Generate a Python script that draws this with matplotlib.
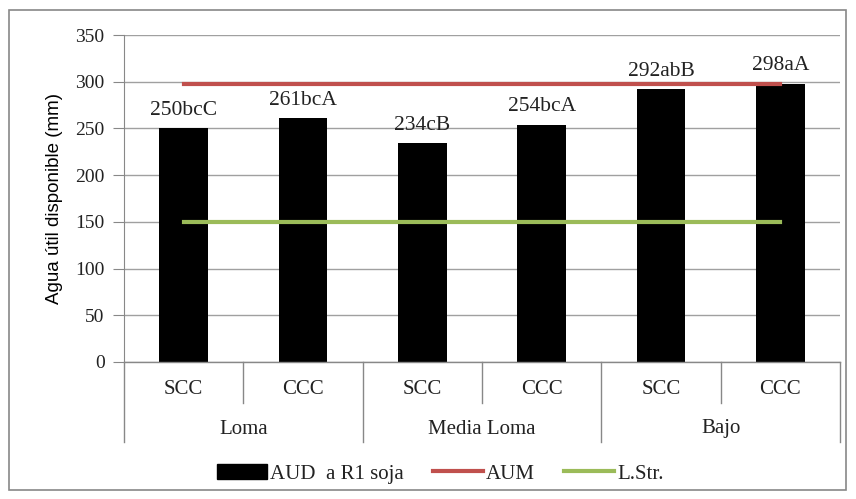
import matplotlib.pyplot as plt
from matplotlib.patches import Patch, Rectangle
from matplotlib.lines import Line2D
import matplotlib.transforms as mtrans

plt.rcParams['font.family'] = ['Liberation Serif', 'DejaVu Serif']
plt.rcParams['text.color'] = '#222222'
plt.rcParams['ytick.labelcolor'] = '#222222'

treatments = ['SCC', 'CCC', 'SCC', 'CCC', 'SCC', 'CCC']
positions = ['Loma', 'Media Loma', 'Bajo']
aud = [250, 261, 234, 254, 292, 298]
letters = ['250bcC', '261bcA', '234cB', '254bcA', '292abB', '298aA']
aum = 298
lstr = 150

fig = plt.figure(figsize=(8.56, 4.99), dpi=100)
ax = fig.add_axes([124 / 856, 1 - 362 / 499, 716 / 856, 327 / 499])

x = list(range(len(aud)))
ax.bar(x, aud, width=0.41, color='black', zorder=2)
ax.plot([x[0], x[-1]], [aum, aum], color='#C0504D', lw=3, zorder=3)
ax.plot([x[0], x[-1]], [lstr, lstr], color='#9BBB59', lw=3, zorder=3)

for xi, v, t in zip(x, aud, letters):
    ax.annotate(t, (xi, v), xytext=(0, 6), textcoords='offset points',
                ha='center', va='bottom', fontsize=15.5)

ax.set_xlim(-0.5, len(aud) - 0.5)
ax.set_ylim(0, 350)
ax.set_yticks(range(0, 351, 50))
ax.tick_params(axis='y', labelsize=14, length=8, color='#888888', pad=6)
ax.yaxis.grid(True, color='#A0A0A0', lw=1)
ax.set_axisbelow(True)
for s in ['top', 'right', 'bottom']:
    ax.spines[s].set_visible(False)
ax.spines['left'].set_color('#888888')
ax.set_xticks([])
ax.axhline(0, color='#888888', lw=1, zorder=4, clip_on=False)
ax.set_ylabel('Agua útil disponible (mm)', fontsize=13.5, labelpad=9,
              family=['Liberation Sans', 'DejaVu Sans'])

# two-level category axis
tr = mtrans.blended_transform_factory(ax.transData, ax.transAxes)
h1 = -41 / 327
h2 = -80 / 327
for i in range(len(aud) + 1):
    xb = i - 0.5
    bottom = h2 if i % 2 == 0 else h1
    ax.add_line(Line2D([xb, xb], [0, bottom], transform=tr, color='#888888',
                       lw=1, clip_on=False))
for xi, t in zip(x, treatments):
    ax.text(xi, -28 / 327, t, transform=tr, ha='center', va='center', fontsize=15)
for j, p in enumerate(positions):
    ax.text(2 * j + 0.5, -67 / 327, p, transform=tr, ha='center', va='center',
            fontsize=15)

handles = [Patch(facecolor='black', edgecolor='black'),
           Line2D([], [], color='#C0504D', lw=3),
           Line2D([], [], color='#9BBB59', lw=3)]
fig.legend(handles, ['AUD  a R1 soja', 'AUM', 'L.Str.'], loc='center',
           bbox_to_anchor=(440 / 856, 1 - 474 / 499), ncol=3, frameon=False,
           fontsize=15, handlelength=2.4, handletextpad=0.15,
           columnspacing=1.4)

fig.add_artist(Rectangle((9 / 856, 1 - 490 / 499), 837 / 856, 480 / 499,
                         transform=fig.transFigure, fill=False,
                         edgecolor='#888888', lw=1.2))

fig.savefig('out.png', dpi=100)
